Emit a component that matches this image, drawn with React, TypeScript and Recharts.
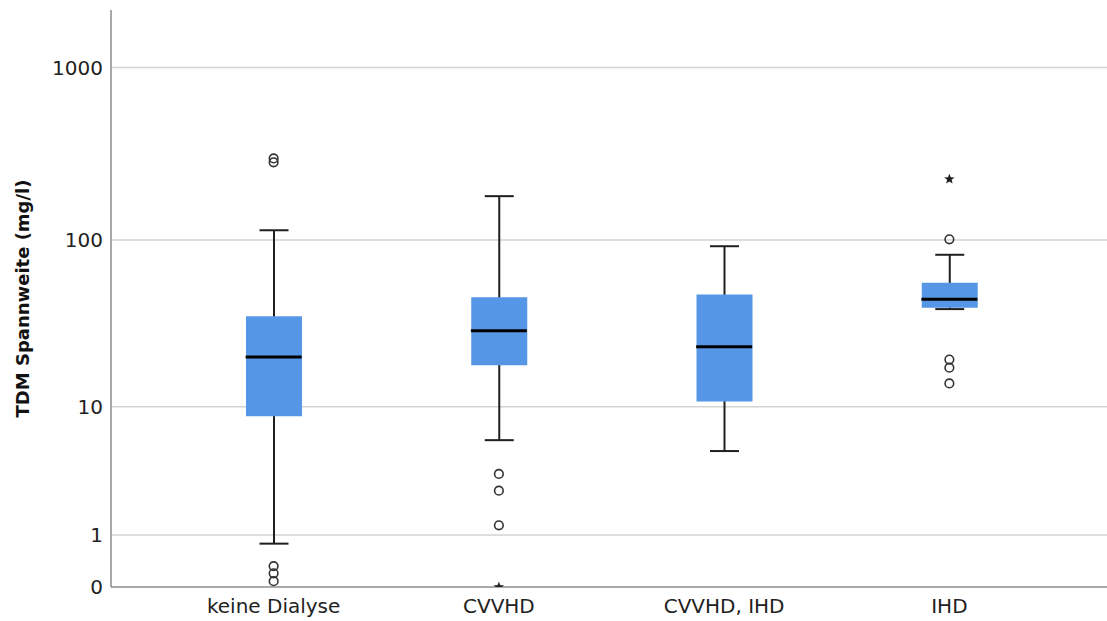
import React from "react";
import {
  ComposedChart, Bar, Line, XAxis, YAxis, ReferenceLine, Label,
} from "recharts";

// TDM range per dialysis group (mg/l): five-number summaries plus outliers
const categories = ["keine Dialyse", "CVVHD", "CVVHD, IHD", "IHD"];
const whiskerLow = [0.78, 6.05, 5.1, 39.3];
const q1 = [8.7, 18.1, 10.8, 40];
const median = [20.3, 29.2, 23.4, 45];
const q3 = [35.7, 46.1, 48, 56.2];
const whiskerHigh = [114, 180, 92, 82];
const circleOutliers: number[][] = [
  [283, 298, 0.32, 0.2, 0.08],
  [3.5, 2.6, 1.27],
  [],
  [101, 19.6, 17.5, 14],
];
const starOutliers: number[][] = [[], [0], [], [226]];
const yTickValues = [0, 1, 10, 100, 1000];

// axis works on log10(v + 1) so that 0 stays on the scale
const toAxis = (v: number) => Math.log10(v + 1);
const fromAxis = (t: number) => Math.round(Math.pow(10, t) - 1);

const rows = categories.map((name, i) => {
  const row: Record<string, any> = {
    name,
    whisker: [toAxis(whiskerLow[i]), toAxis(whiskerHigh[i])],
    box: [toAxis(q1[i]), toAxis(q3[i])],
    med: toAxis(median[i]),
  };
  circleOutliers[i].forEach((v, k) => (row[`c${k}`] = toAxis(v)));
  starOutliers[i].forEach((v, k) => (row[`s${k}`] = toAxis(v)));
  return row;
});

const BOX_W = 56;
const CAP_W = 29;
const INK = "#1f1f1f";
const AXIS_PAD = { left: 50, right: 45 };

const WhiskerShape = (props: any) => {
  const { x, y, width, height } = props;
  const cx = x + width / 2;
  const top = Math.min(y, y + height);
  const bottom = Math.max(y, y + height);
  return (
    <g>
      <line x1={cx} x2={cx} y1={top} y2={bottom} stroke={INK} strokeWidth={2} />
      <line x1={cx - CAP_W / 2} x2={cx + CAP_W / 2} y1={top} y2={top} stroke={INK} strokeWidth={2} />
      <line x1={cx - CAP_W / 2} x2={cx + CAP_W / 2} y1={bottom} y2={bottom} stroke={INK} strokeWidth={2} />
    </g>
  );
};

const missing = (p: any) => p.value == null || p.cy == null || Number.isNaN(p.cy);

const MedianDot = (p: any) => {
  if (missing(p)) return <g key={`m-${p.index}`} />;
  return (
    <line key={`m-${p.index}`} x1={p.cx - BOX_W / 2} x2={p.cx + BOX_W / 2}
      y1={p.cy} y2={p.cy} stroke="#000" strokeWidth={3} />
  );
};

const CircleDot = (p: any) => {
  if (missing(p)) return <g key={`c-${p.dataKey}-${p.index}`} />;
  return (
    <circle key={`c-${p.dataKey}-${p.index}`} cx={p.cx} cy={p.cy} r={4.3}
      fill="none" stroke="#333" strokeWidth={1.6} />
  );
};

const StarDot = (p: any) => {
  if (missing(p)) return <g key={`s-${p.dataKey}-${p.index}`} />;
  const pts: string[] = [];
  for (let k = 0; k < 10; k++) {
    const r = k % 2 === 0 ? 5.5 : 2.3;
    const a = -Math.PI / 2 + (k * Math.PI) / 5;
    pts.push(`${p.cx + r * Math.cos(a)},${p.cy + r * Math.sin(a)}`);
  }
  return <polygon key={`s-${p.dataKey}-${p.index}`} points={pts.join(" ")} fill={INK} />;
};

const YTitle = (props: any) => {
  const { viewBox } = props;
  const x = viewBox.x + 22;
  const y = viewBox.y + viewBox.height / 2;
  return (
    <text x={x} y={y} transform={`rotate(-90, ${x}, ${y})`} textAnchor="middle"
      dominantBaseline="central" fontSize={18} fontWeight="bold" fill="#111">
      TDM Spannweite (mg/l)
    </text>
  );
};

// horizontal grid only at the labelled ticks; zero sits on the axis line
const gridValues = yTickValues.filter((v) => v > 0);
const circleKeys = [0, 1, 2, 3, 4].map((k) => `c${k}`);
const starKeys = ["s0"];

export default function App() {
  return (
    <div style={{ position: "absolute", left: 0, top: 0, background: "#fff", fontFamily: "DejaVu Sans, sans-serif" }}>
      <ComposedChart width={1107} height={621} data={rows}
        margin={{ top: 10, right: 0, bottom: 0, left: 0 }}>
        <XAxis xAxisId="main" dataKey="name" height={34} padding={AXIS_PAD}
          tickLine={false} tickSize={0} tickMargin={12}
          axisLine={{ stroke: "#8c8c8c", strokeWidth: 1.5 }}
          tick={{ fontSize: 20, fill: "#222" }} interval={0} />
        <XAxis xAxisId="whisk" dataKey="name" hide padding={AXIS_PAD} />
        <YAxis width={111} domain={[0, 3.333]} type="number" allowDataOverflow
          ticks={yTickValues.map(toAxis)} tickFormatter={fromAxis}
          tickLine={false} tickSize={0} tickMargin={8}
          axisLine={{ stroke: "#8c8c8c", strokeWidth: 1.5 }}
          tick={{ fontSize: 20, fill: "#222" }}>
          <Label content={YTitle} />
        </YAxis>
        {gridValues.map((v) => (
          <ReferenceLine key={v} xAxisId="main" y={toAxis(v)} stroke="#d3d3d3"
            strokeWidth={1.5} zIndex={-100} />
        ))}
        <Bar xAxisId="whisk" dataKey="whisker" barSize={BOX_W} shape={WhiskerShape}
          isAnimationActive={false} />
        <Bar xAxisId="main" dataKey="box" barSize={BOX_W} fill="#5596e6"
          isAnimationActive={false} />
        <Line xAxisId="main" dataKey="med" stroke="none" dot={MedianDot}
          activeDot={false} isAnimationActive={false} />
        {circleKeys.map((k) => (
          <Line key={k} xAxisId="main" dataKey={k} stroke="none" dot={CircleDot}
            activeDot={false} isAnimationActive={false} />
        ))}
        {starKeys.map((k) => (
          <Line key={k} xAxisId="main" dataKey={k} stroke="none" dot={StarDot}
            activeDot={false} isAnimationActive={false} />
        ))}
      </ComposedChart>
    </div>
  );
}
